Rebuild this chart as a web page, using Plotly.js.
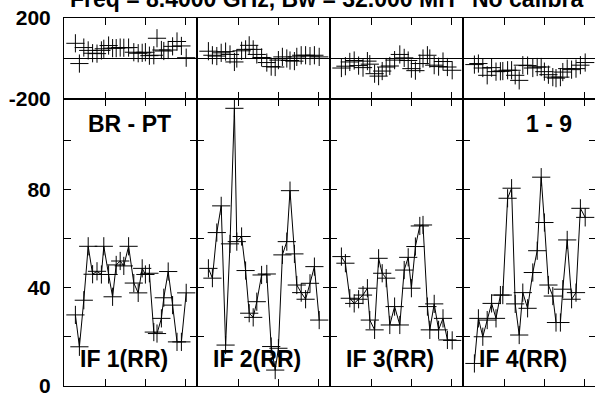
<!DOCTYPE html>
<html>
<head>
<meta charset="utf-8">
<script src="https://cdn.plot.ly/plotly-3.0.1.min.js"></script>
<style>
html,body{margin:0;padding:0;background:#fff;overflow:hidden;width:595px;height:393px;}
#chart{width:597px;height:393px;}
</style>
</head>
<body>
<div id="chart"></div>
<script>
// Time stamps (same for each IF panel)
const times = [2.6, 3.6, 4.7, 5.8, 6.9, 8.0, 9.1, 9.7, 10.9, 11.9, 12.8, 13.8, 14.7, 15.9, 17.2, 18.3, 19.3, 20.1, 21.1, 22.2, 23.0, 24.1, 24.7, 25.8, 26.9, 28.0, 29.1, 30.3];

// Amplitudes (lower panels)
const amp_if1 = [29, 16, 35, 57, 45.6, 46.8, 45.5, 57, 45.5, 36.4, 49.4, 51, 49, 57, 42, 38, 48, 45.5, 46, 22, 21.4, 27.6, 36, 46.7, 33, 18, 18, 38];
const amp_if2 = [48.0, 44.0, 62.6, 73.5, 16.7, 58.0, 113.3, 58.9, 61, 47.1, 29.7, 28, 34.4, 45.3, 45.7, 16.1, 6.5, 15.4, 53.5, 58.9, 79.7, 53.9, 41.2, 38.1, 35.4, 41.9, 48.7, 26.9];
const amp_if3 = [52.8, 50.1, 35.8, 33.7, 35.4, 37.1, 39.9, 26.9, 22.9, 52.1, 46, 44, 24.9, 32.4, 24.9, 47.3, 52.5, 39.9, 56.9, 65.3, 65.7, 32.4, 22.9, 33.5, 22.9, 27.6, 18.8, 18.6];
const amp_if4 = [9.2, 27.6, 20.1, 26.9, 33.7, 27.6, 37.1, 37.1, 76.6, 80.7, 33.5, 20.8, 38.1, 31.7, 46.3, 55.2, 85.2, 66.7, 41.2, 36.7, 25.9, 25.9, 39.5, 59.6, 35.4, 38.1, 72.5, 68.8];

// Phases (upper panels)
const phase_if1 = [75, -25, 54, 40, 26, 24, 40, 48, 64, 51, 51, 54, 53, 54, 31, 26, 28, 31, 14, 16, 100, 42, 37, 42, 60, 84, 62, 4];
const phase_if2 = [36, 16, 12, 28, 34, 20, -17, 0, 38, 45, 65, 45, 20, 5, -20, -40, -42, -8, 8, 0, -10, -13, 8, 16, 16, 12, 16, 8];
const phase_if3 = [-47, -38, -17, -10, -35, -45, -13, -28, -75, -87, -62, -42, -37, -8, 20, 3, -10, -50, -60, -25, 0, 16, 0, -33, -40, -15, -42, -58];
const phase_if4 = [-30, -25, -47, -83, -45, -65, -63, -62, -58, -58, -83, -108, -33, -35, -47, -42, -42, -65, -80, -92, -97, -92, -67, -50, -55, -50, -33, -20];

const ifLabels = ["IF 1(RR)", "IF 2(RR)", "IF 3(RR)", "IF 4(RR)"];
const titleLeft = "Freq = 8.4000 GHz, Bw = 32.000 MH";
const titleRight = "No calibra";
const baselineLabel = "BR - PT";
const scanLabel = "1 - 9";

const ampTickVals = [0, 20, 40, 60, 80, 100];
const ampTickText = ["0", "", "40", "", "80", ""];
const phaseTickVals = [-200, 200];
const phaseTickText = ["-200", "200"];
const timeTickVals = [10, 20, 30];

const amps = [amp_if1, amp_if2, amp_if3, amp_if4];
const phases = [phase_if1, phase_if2, phase_if3, phase_if4];

const FONT = "Liberation Sans, Arial, sans-serif";
const split = 287/368;
const traces = [];
const layout = {
  width: 597, height: 393,
  margin: {l: 64, r: 1, t: 18, b: 7},
  paper_bgcolor: "#fff", plot_bgcolor: "#fff",
  showlegend: false,
  font: {family: FONT, size: 21, color: "#000", weight: "bold"},
  annotations: []
};

const axBase = {
  showline: true, linecolor: "#000", linewidth: 1, mirror: "ticks",
  ticks: "inside", ticklen: 7, tickwidth: 1, tickcolor: "#000",
  showgrid: false, zeroline: false, fixedrange: true
};

for (let i = 0; i < 4; i++) {
  const bi = 2*i + 1, ti = 2*i + 2;
  const x0 = i/4, x1 = (i+1)/4;
  const bx = "x" + bi, by = "y" + bi, tx = "x" + ti, ty = "y" + ti;
  traces.push({
    x: times, y: amps[i], xaxis: bx, yaxis: by, type: "scatter", mode: "lines+markers",
    line: {color: "#000", width: 1},
    marker: {symbol: "cross-thin-open", size: 13, color: "#000", line: {color: "#000", width: 1}},
    cliponaxis: true
  });
  traces.push({
    x: times, y: phases[i], xaxis: tx, yaxis: ty, type: "scatter", mode: "markers",
    marker: {symbol: "cross-thin-open", size: 13, color: "#000", line: {color: "#000", width: 1}},
    cliponaxis: true
  });
  const xa = Object.assign({}, axBase, {domain: [x0, x1], range: [-0.25, 33], tickvals: timeTickVals, showticklabels: false});
  layout["xaxis" + bi] = Object.assign({}, xa, {anchor: by});
  layout["xaxis" + ti] = Object.assign({}, xa, {anchor: ty});
  layout["yaxis" + bi] = Object.assign({}, axBase, {
    domain: [0, split], range: [0, 117.1], anchor: bx,
    tickvals: ampTickVals, ticktext: ampTickText, showticklabels: i === 0,
    ticklabelstandoff: 8, ticklabeloverflow: "allow",
    tickfont: {family: FONT, size: 21, color: "#000", weight: "bold"}
  });
  layout["yaxis" + ti] = Object.assign({}, axBase, {
    domain: [split, 1], range: [-200, 200], anchor: tx,
    tickvals: phaseTickVals, ticktext: phaseTickText, showticklabels: i === 0,
    zeroline: true, zerolinecolor: "#000", zerolinewidth: 1,
    ticklabelstandoff: 8, ticklabeloverflow: "allow",
    tickfont: {family: FONT, size: 21, color: "#000", weight: "bold"}
  });
  layout.annotations.push({
    text: ifLabels[i], xref: "paper", yref: "paper",
    x: (133*i + 14)/532, y: 0.074, xanchor: "left", yanchor: "middle", showarrow: false,
    font: {family: FONT, size: 23, color: "#000", weight: "bold"}
  });
}
layout.annotations.push({
  text: baselineLabel, xref: "paper", yref: "paper", x: 0.124, y: 0.712,
  xanchor: "center", yanchor: "middle", showarrow: false,
  font: {family: FONT, size: 23, color: "#000", weight: "bold"}
});
layout.annotations.push({
  text: scanLabel, xref: "paper", yref: "paper", x: 0.9117, y: 0.7106,
  xanchor: "center", yanchor: "middle", showarrow: false,
  font: {family: FONT, size: 23, color: "#000", weight: "bold"}
});
layout.annotations.push({
  text: titleLeft, xref: "paper", yref: "paper", x: 0.0075, y: 1.0503,
  xanchor: "left", yanchor: "middle", showarrow: false,
  font: {family: FONT, size: 23, color: "#000", weight: "bold"}
});
layout.annotations.push({
  text: titleRight, xref: "paper", yref: "paper", x: 0.763, y: 1.0503,
  xanchor: "left", yanchor: "middle", showarrow: false,
  font: {family: FONT, size: 23, color: "#000", weight: "bold"}
});

Plotly.newPlot("chart", traces, layout, {staticPlot: true, displayModeBar: false});
</script>
</body>
</html>
